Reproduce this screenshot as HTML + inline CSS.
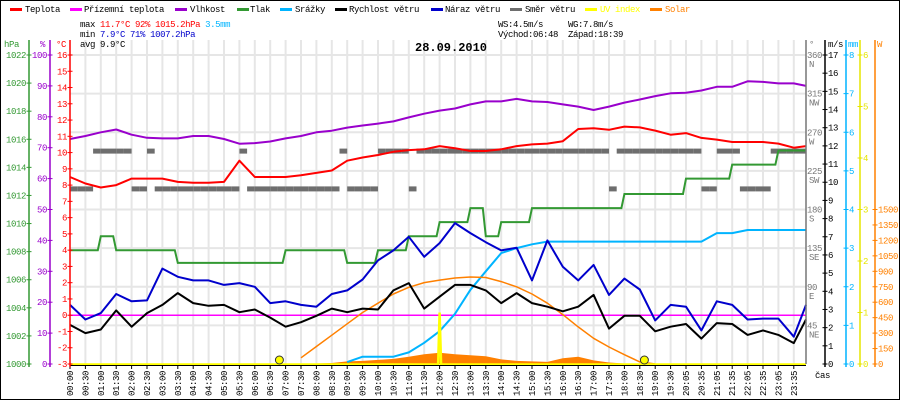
<!DOCTYPE html>
<html><head><meta charset="utf-8"><style>
html,body{margin:0;padding:0;background:#fff;}
svg{display:block;font-family:"Liberation Mono",monospace;}
text{font-size:9px;letter-spacing:-0.4px;}
</style></head><body>
<svg id="chart" width="900" height="400" viewBox="0 0 900 400">
<rect x="0.5" y="0.5" width="899" height="399" fill="#fff" stroke="#000"/>
<g id="grid"></g>
<g id="series"></g>
<g id="axes"></g>
<g>
 <rect x="10" y="8" width="12" height="3" fill="#ff0000"/><text x="25" y="12">Teplota</text>
 <rect x="70" y="8" width="12" height="3" fill="#ff00ff"/><text x="84" y="12">Přízemní teplota</text>
 <rect x="175" y="8" width="12" height="3" fill="#9900cc"/><text x="190" y="12">Vlhkost</text>
 <rect x="237" y="8" width="12" height="3" fill="#339933"/><text x="250" y="12">Tlak</text>
 <rect x="280" y="8" width="12" height="3" fill="#00b4ff"/><text x="295" y="12">Srážky</text>
 <rect x="335" y="8" width="12" height="3" fill="#000"/><text x="349" y="12">Rychlost větru</text>
 <rect x="431" y="8" width="12" height="3" fill="#0000cc"/><text x="445" y="12">Náraz větru</text>
 <rect x="510" y="8" width="12" height="3" fill="#6e6e6e"/><text x="525" y="12">Směr větru</text>
 <rect x="585" y="8" width="12" height="3" fill="#ffff00"/><text x="600" y="12" fill="#ffff00">UV index</text>
 <rect x="650" y="8" width="12" height="3" fill="#ff8000"/><text x="665" y="12" fill="#ff8000">Solar</text>
</g>
<g>
 <text x="80" y="27">max <tspan fill="#ff0000">11.7°C</tspan>  <tspan fill="#ff0000">92%</tspan>  <tspan fill="#ff0000">1015.2hPa</tspan>   <tspan fill="#00b4ff">3.5mm</tspan></text>
 <text x="80" y="37">min  <tspan fill="#0000cc">7.9°C</tspan>  <tspan fill="#0000cc">71%</tspan>  <tspan fill="#0000cc">1007.2hPa</tspan></text>
 <text x="80" y="47">avg  9.9°C</text>
 <text x="498" y="27">WS:4.5m/s</text>
 <text x="568" y="27">WG:7.8m/s</text>
 <text x="498" y="37">Východ:06:48</text>
 <text x="568" y="37">Západ:18:39</text>
 <text x="415" y="51" style="font-size:12px;font-weight:bold;letter-spacing:0">28.09.2010</text>
 <text x="815" y="378">čas</text>
</g>
</svg>
<script>
const timeLabels=["00:00","00:30","01:00","01:30","02:00","02:30","03:00","03:30","04:00","04:30","05:00","05:30","06:00","06:30","07:00","07:30","08:00","08:30","09:00","09:30","10:00","10:30","11:00","11:30","12:00","12:30","13:00","13:30","14:00","14:30","15:00","15:30","16:00","16:30","17:00","17:30","18:00","18:30","19:00","19:30","20:05","20:35","21:05","21:35","22:05","22:35","23:05","23:35"];
const temperature=[8.5,8.1,7.85,8.0,8.4,8.4,8.4,8.2,8.15,8.15,8.2,9.5,8.5,8.5,8.5,8.6,8.75,8.9,9.5,9.7,9.85,10.05,10.15,10.2,10.4,10.27,10.1,10.1,10.2,10.4,10.5,10.55,10.7,11.45,11.5,11.4,11.6,11.55,11.35,11.1,11.2,10.9,10.8,10.65,10.65,10.65,10.55,10.3,10.4];
const groundTemp=[0,0,0,0,0,0,0,0,0,0,0,0,0,0,0,0,0,0,0,0,0,0,0,0,0,0,0,0,0,0,0,0,0,0,0,0,0,0,0,0,0,0,0,0,0,0,0,0,0];
const humidity=[72.8,73.8,75,75.9,74.2,73.2,73,73,73.8,73.8,72.8,71.3,71.5,72,73,73.8,75,75.5,76.5,77.2,77.8,78.5,79.8,81,82,82.7,84,85,85,85.8,85,84.8,84,83.3,82.2,83.3,84.6,85.6,86.7,87.6,87.8,88.5,89.7,89.7,91.5,91.3,90.8,90.8,90];
const pressure=[1008.1,1008.1,1009.1,1008.1,1008.1,1008.1,1008.1,1007.2,1007.2,1007.2,1007.2,1007.2,1007.2,1007.2,1008.1,1008.1,1008.1,1008.1,1007.2,1007.2,1008.1,1008.1,1009.1,1009.1,1010.1,1010.1,1011.1,1009.1,1010.1,1010.1,1011.1,1011.1,1011.1,1011.1,1011.1,1011.1,1012.1,1012.1,1012.1,1012.1,1013.2,1013.2,1013.2,1014.2,1014.2,1014.2,1015.2,1015.2,1015.2];
const rain=[null,null,null,null,null,null,null,null,null,null,null,null,null,null,null,null,null,null,0.05,0.19,0.19,0.19,0.3,0.55,0.85,1.3,1.92,2.4,2.87,3.0,3.1,3.17,3.17,3.17,3.17,3.17,3.17,3.17,3.17,3.17,3.17,3.17,3.39,3.39,3.47,3.47,3.47,3.47,3.47];
const windSpeed=[2.15,1.7,1.9,2.95,2.05,2.8,3.25,3.9,3.35,3.2,3.25,2.85,3.0,2.55,2.05,2.3,2.65,3.05,2.85,3.05,3.0,4.05,4.45,3.05,3.7,4.35,4.35,4.05,3.35,3.9,3.35,3.15,2.9,3.15,3.8,1.95,2.65,2.65,1.8,2.05,2.2,1.4,2.25,2.2,1.6,1.85,1.6,1.15,2.45];
const windGust=[3.25,2.45,2.8,3.85,3.45,3.5,5.25,4.8,4.6,4.6,4.35,4.45,4.25,3.35,3.45,3.25,3.15,3.85,4.05,4.65,5.7,6.25,7.0,5.9,6.65,7.75,7.2,6.7,6.25,6.4,4.6,6.8,5.35,4.6,5.45,3.8,4.7,4.1,2.4,3.25,3.15,1.85,3.45,3.25,2.45,2.5,2.5,1.5,3.25];
const windDir=[204,204,204,248,248,248,248,248,204,204,248,204,204,204,204,204,204,204,204,204,204,204,248,204,204,204,204,204,204,204,204,204,204,204,204,248,204,204,204,204,248,248,248,248,204,248,248,248,248,248,248,248,248,248,248,248,248,248,248,248,248,248,248,248,248,248,248,248,248,248,204,248,248,248,248,248,248,248,248,248,248,248,204,204,248,248,248,204,204,204,204,248,248,248,248,248];
const uvIndex=[0,0,0,0,0,0,0,0,0,0,0,0,0,0,0,0,0,0,0,0,0,0,0,0,1.0,0,0,0,0,0,0,0,0,0,0,0,0,0,0,0,0,0,0,0,0,0,0,0,0];
const solarTheory=[null,null,null,null,null,null,null,null,null,null,null,null,null,null,null,60,170,280,390,500,590,680,745,790,815,835,845,840,800,750,680,590,480,360,250,165,90,20,0,null,null,null,null,null,null,null,null,null,null];
const solarMeasured=[0,0,0,0,0,0,0,0,0,0,0,0,0,0,0,0,5,10,25,30,40,50,70,95,110,95,85,75,45,30,25,20,55,70,35,15,5,0,0,0,0,0,0,0,0,0,0,0,0];
const sunEvents=[408,1119];

const NS="http://www.w3.org/2000/svg";
const X0=70,X1=806,Y0=364,YTOP=55,H=309,STEP=15.4;
const xi=i=>Math.min(X0+i*STEP,X1);
const xMin=m=>X0+m/30*STEP;
const yT=v=>Y0-(v+3)*H/19, yP=v=>Y0-(v-1000)*H/22, yH=v=>Y0-v*H/100;
const yWs=v=>Y0-v*H/17, yMm=v=>Y0-v*H/8, yUv=v=>Y0-v*H/6, ySol=v=>Y0-v*H/3000, yDir=v=>Y0-v*H/360;
function mk(tag,attrs,parent){const e=document.createElementNS(NS,tag);for(const k in attrs)e.setAttribute(k,attrs[k]);parent.appendChild(e);return e;}
const grid=document.getElementById('grid'),ser=document.getElementById('series'),ax=document.getElementById('axes');

for(let i=1;i<=48;i++){const x=xi(i);if(x>=X1)continue;
 const l=mk('line',{x1:x,x2:x,y1:40,y2:Y0,stroke:'#e6e6e6','stroke-width':2},grid);
 
 }
for(let j=1;j<=8;j++){const y=Y0-j*H/8;
 const l=mk('line',{x1:X0,x2:X1,y1:y,y2:y,stroke:'#e6e6e6','stroke-width':2},grid);
 
 }

function line(arr,fy,color,name,w){let d='',pen=false;
 arr.forEach((v,i)=>{if(v===null){pen=false;return;}d+=(pen?'L':'M')+xi(i).toFixed(1)+','+fy(v).toFixed(1);pen=true;});
 const p=mk('path',{d:d,fill:'none',stroke:color,'stroke-width':w||2,'stroke-linejoin':'round'},ser);
 
 return p;}
function stepLine(arr,fy,color,name){let d='M'+xi(0)+','+fy(arr[0]).toFixed(1);
 for(let i=1;i<arr.length;i++){if(arr[i]!==arr[i-1])d+='H'+(xi(i)-3).toFixed(1);d+='L'+xi(i).toFixed(1)+','+fy(arr[i]).toFixed(1);}
 const p=mk('path',{d:d,fill:'none',stroke:color,'stroke-width':2},ser);
 
 }

// solar measured area
{let d='M'+xi(0)+','+Y0;solarMeasured.forEach((v,i)=>{d+='L'+xi(i).toFixed(1)+','+ySol(v).toFixed(1);});d+='L'+X1+','+Y0+'Z';
 const p=mk('path',{d:d,fill:'#ff8000',stroke:'none'},ser);
 
 }
// wind direction
windDir.forEach((v,k)=>{if(v===null)return;
 const r=mk('rect',{x:(X0+k*STEP/2).toFixed(1),y:(yDir(v)-2.5).toFixed(1),width:Math.min(STEP/2,X1-(X0+k*STEP/2)).toFixed(1),height:5,fill:'#6e6e6e'},ser);
 
 });
line(groundTemp,yT,'#ff00ff','ground-temperature-line',1.5);
line(humidity,yH,'#9900cc','humidity-line');
line(temperature,yT,'#ff0000','temperature-line');
stepLine(pressure,yP,'#339933','pressure-line');
line(rain,yMm,'#00b4ff','rain-line');
line(solarTheory,ySol,'#ff8000','solar-theory-line',1.5);
line(windGust,yWs,'#0000cc','wind-gust-line');
line(windSpeed,yWs,'#000000','wind-speed-line');
// UV as needle
{let d='M'+X0+','+(Y0+0.5);uvIndex.forEach((v,i)=>{if(v>0){const x=xi(i);d+='L'+(x-1.5)+','+(Y0+0.5)+'L'+x+','+yUv(v).toFixed(1)+'L'+(x+1.5)+','+(Y0+0.5);}});d+='L'+X1+','+(Y0+0.5);
 const p=mk('path',{d:d,fill:'none',stroke:'#ffff00','stroke-width':2.5},ser);
 
 }
sunEvents.forEach(m=>{const c=mk('circle',{cx:xMin(m).toFixed(1),cy:360,r:4,fill:'#ffff00',stroke:'#333','stroke-width':1},ser);
 
 });

// x axis
{const b=mk('line',{x1:X0,x2:X1,y1:Y0+1.5,y2:Y0+1.5,stroke:'#000','stroke-width':1},ax);
 
 }
timeLabels.forEach((t,i)=>{const x=xi(i);
 const tk=mk('line',{x1:x,x2:x,y1:Y0+2,y2:Y0+5,stroke:'#000'},ax);
 
 
 const tx=mk('text',{x:0,y:0,transform:'translate('+(x+3)+',396) rotate(-90)'},ax);tx.textContent=t;
 
 });

function vAxis(x,color,name,head,headX,ticks,fy,labelSide,fmt){
 const l=mk('line',{x1:x,x2:x,y1:40,y2:Y0+3,stroke:color,'stroke-width':1.5},ax);
 
 
 const h=mk('text',{x:headX,y:47,fill:color},ax);h.textContent=head;
 
 
 ticks.forEach(v=>{const y=fy(v);
  const t=mk('line',{x1:x-2.5,x2:x+2.5,y1:y,y2:y,stroke:color},ax);
  
  
  const tx=mk('text',labelSide==='left'?{x:x-3,y:y+3,fill:color,'text-anchor':'end'}:{x:x+3,y:y+3,fill:color},ax);
  tx.textContent=fmt?fmt(v):v;
  
  });}
const pTicks=[1000,1002,1004,1006,1008,1010,1012,1014,1016,1018,1020,1022];
const hTicks=[0,10,20,30,40,50,60,70,80,90,100];
const tTicks=[-3,-2,-1,0,1,2,3,4,5,6,7,8,9,10,11,12,13,14,15,16];
const wsTicks=[0,1,2,3,4,5,6,7,8,9,10,11,12,13,14,15,16,17];
const mmTicks=[0,1,2,3,4,5,6,7,8];
const uvTicks=[0,1,2,3,4,5,6];
const solTicks=[0,150,300,450,600,750,900,1050,1200,1350,1500];
const dirTicks=[45,90,135,180,225,270,315,360];
const dirNames=["NE","E","SE","S","SW","W","NW","N"];
vAxis(29,'#339933','pressure-axis','hPa',4,pTicks,yP,'left');
vAxis(50,'#9900cc','humidity-axis','%',40,hTicks,yH,'left');
vAxis(70,'#ff0000','temperature-axis','°C',56,tTicks,yT,'left');
vAxis(825,'#000000','wind-axis','m/s',828,wsTicks,yWs,'right');
vAxis(846,'#00b4ff','rain-axis','mm',848,mmTicks,yMm,'right');
vAxis(860,'#e6e600','uv-axis','',862,uvTicks,yUv,'right');
vAxis(875,'#ff8000','solar-axis','W',877,solTicks,ySol,'right');
{const l=mk('line',{x1:X1,x2:X1,y1:40,y2:Y0,stroke:'#777','stroke-width':1.5},ax);
 
 
 const h=mk('text',{x:809,y:47,fill:'#777'},ax);h.textContent='°';
 
 
 dirTicks.forEach((v,i)=>{const y=yDir(v);
  const t=mk('text',{x:807,y:y+3,fill:'#777'},ax);t.textContent=v;
  
  
  const n=mk('text',{x:809,y:y+12,fill:'#777'},ax);n.textContent=dirNames[i];
  
  });}
</script>
</body></html>
